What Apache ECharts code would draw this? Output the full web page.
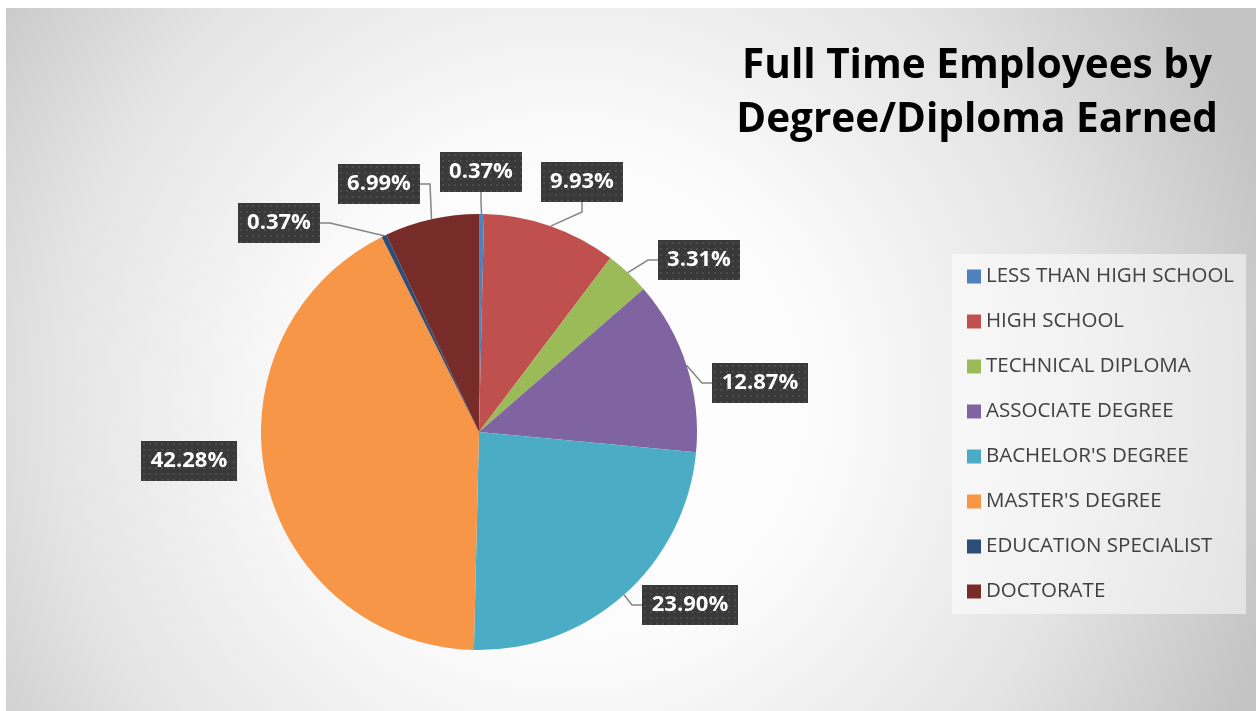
<!DOCTYPE html>
<html>
<head>
<meta charset="utf-8">
<style>
  html, body { margin: 0; padding: 0; background: #ffffff; }
  #chart { width: 1256px; height: 711px; }
</style>
<script src="https://cdn.jsdelivr.net/npm/echarts@6/dist/echarts.min.js"></script>
</head>
<body>
<div id="chart"></div>
<script>
// ---- data ----
const categories = [
  'LESS THAN HIGH SCHOOL',
  'HIGH SCHOOL',
  'TECHNICAL DIPLOMA',
  'ASSOCIATE DEGREE',
  "BACHELOR'S DEGREE",
  "MASTER'S DEGREE",
  'EDUCATION SPECIALIST',
  'DOCTORATE'
];
const percentValues = [0.37, 9.93, 3.31, 12.87, 23.90, 42.28, 0.37, 6.99];
const titleText = 'Full Time Employees by\nDegree/Diploma Earned';

// ---- styles ----
const sliceColors = ['#4f81bd', '#c0504d', '#9bbb59', '#8064a2', '#4bacc6', '#f79646', '#2c4d75', '#772c2a'];
const CX = 479, CY = 432, R = 218;
// label box centre offsets from pie centre (px)
const labelOffsets = [
  [2, -260], [103, -250], [220, -172], [281, -49],
  [211, 173], [-290, 29], [-200, -209], [-100, -248]
];
const hideLine = [false, false, false, false, false, true, false, false];

function makeBg(w, h) {
  const c = document.createElement('canvas');
  c.width = w; c.height = h;
  const g = c.getContext('2d');
  g.fillStyle = '#393939';
  g.fillRect(0, 0, w, h);
  g.fillStyle = '#4c4c4c';
  for (let y = 2; y < h; y += 6) {
    for (let x = 2; x < w; x += 6) {
      g.fillRect(x, y, 2, 2);
    }
  }
  return c;
}

const chart = echarts.init(document.getElementById('chart'), null, { renderer: 'canvas' });

const pieData = categories.map((name, i) => {
  const txt = percentValues[i].toFixed(2) + '%';
  const tw = txt.length > 5 ? 80 : 66;
  return {
    name: name,
    value: percentValues[i],
    itemStyle: { color: sliceColors[i] },
    label: {
      width: tw,
      backgroundColor: { image: makeBg(tw + 16, 40) }
    },
    labelLine: { show: !hideLine[i] }
  };
});

const option = {
  backgroundColor: '#ffffff',
  animation: false,
  graphic: [{
    type: 'rect',
    z: -10,
    silent: true,
    shape: { x: 6, y: 8, width: 1250, height: 703 },
    style: {
      fill: {
        type: 'radial', x: 0.45, y: 0.56, r: 1.05,
        colorStops: [
          { offset: 0, color: '#ffffff' },
          { offset: 0.35, color: '#fbfbfb' },
          { offset: 0.7, color: '#e4e4e4' },
          { offset: 1, color: '#c3c3c3' }
        ]
      }
    }
  }],
  title: {
    text: titleText,
    left: 972,
    top: 34,
    textAlign: 'center',
    textStyle: {
      fontFamily: 'Open Sans',
      fontWeight: 'bold',
      fontSize: 40.5,
      lineHeight: 54,
      color: '#000000'
    }
  },
  legend: {
    orient: 'vertical',
    left: 952,
    top: 254,
    padding: [12, 12, 12, 15],
    backgroundColor: 'rgba(255,255,255,0.5)',
    icon: 'rect',
    itemWidth: 14,
    itemHeight: 14,
    itemGap: 24,
    data: categories,
    textStyle: {
      fontFamily: 'Open Sans',
      fontSize: 20.5,
      lineHeight: 20,
      color: '#404040'
    }
  },
  series: [{
    type: 'pie',
    center: [CX, CY],
    radius: R,
    startAngle: 90,
    clockwise: true,
    avoidLabelOverlap: false,
    data: pieData,
    label: {
      show: true,
      position: 'outside',
      formatter: p => p.value.toFixed(2) + '%',
      fontFamily: 'Open Sans',
      fontWeight: 'bold',
      fontSize: 22,
      color: '#ffffff',
      height: 40,
      lineHeight: 40,
      padding: [0, 8],
      align: 'center',
      shadowBlur: 5,
      shadowOffsetX: 3,
      shadowOffsetY: 3,
      shadowColor: 'rgba(0,0,0,0.45)'
    },
    labelLine: {
      show: true,
      length: 15,
      length2: 10,
      smooth: false,
      lineStyle: { color: '#858585', width: 1.5 }
    },
    labelLayout: function (params) {
      const o = labelOffsets[params.dataIndex];
      return { x: CX + o[0], y: CY + o[1], align: 'center', verticalAlign: 'middle' };
    },
    emphasis: { disabled: true }
  }]
};

chart.setOption(option);
</script>
</body>
</html>
